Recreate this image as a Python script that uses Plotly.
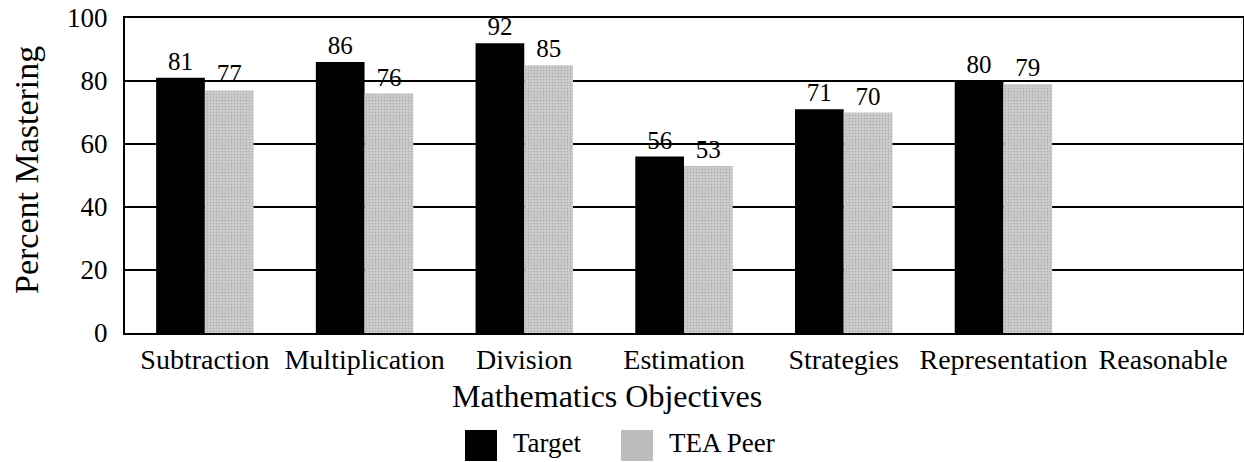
import plotly.graph_objects as go

categories = ["Subtraction", "Multiplication", "Division", "Estimation",
              "Strategies", "Representation", "Reasonable"]
target = [81, 86, 92, 56, 71, 80, None]
tea_peer = [77, 76, 85, 53, 70, 79, None]
y_ticks = [0, 20, 40, 60, 80, 100]
series_names = ["Target", "TEA Peer"]

FONT = "Liberation Serif"
W, H = 1244, 462
L, R, T, B = 125, 1, 18, 129

fig = go.Figure()
fig.add_trace(go.Bar(
    name=series_names[0], x=categories, y=target,
    marker=dict(color="black", line=dict(width=0)),
    text=[str(v) if v is not None else "" for v in target],
    textposition="outside", cliponaxis=False,
    textfont=dict(family=FONT, size=25, color="black"),
    showlegend=False,
))
fig.add_trace(go.Bar(
    name=series_names[1], x=categories, y=tea_peer,
    marker=dict(color="#bdbdbd", line=dict(width=0),
                pattern=dict(shape=".", fgcolor="#8f8f8f", bgcolor="#cfcfcf",
                             size=3, solidity=0.3)),
    text=[str(v) if v is not None else "" for v in tea_peer],
    textposition="outside", cliponaxis=False,
    textfont=dict(family=FONT, size=25, color="black"),
    showlegend=False,
))

pw = W - L - R
ph = H - T - B
def px_x(x):
    return (x - L) / pw
def px_y(y):
    return (H - B - y) / ph

# custom legend (large squares like the reference)
legend_items = [
    (series_names[0], 465, 497, "black"),
    (series_names[1], 621, 653, "#bdbdbd"),
]
shapes = []
annotations = []
for name, x0, x1, col in legend_items:
    shapes.append(dict(type="rect", xref="paper", yref="paper",
                       x0=px_x(x0), x1=px_x(x1), y0=px_y(461), y1=px_y(430),
                       fillcolor=col, line=dict(width=0)))
    annotations.append(dict(text=name, xref="paper", yref="paper",
                            x=px_x(x1 + 14), y=px_y(443), xanchor="left", yanchor="middle",
                            showarrow=False, font=dict(family=FONT, size=27, color="black")))

annotations.append(dict(text="Mathematics Objectives", xref="paper", yref="paper",
                        x=px_x(607), y=px_y(396), xanchor="center", yanchor="middle",
                        showarrow=False, font=dict(family=FONT, size=32, color="black")))
annotations.append(dict(text="Percent Mastering", xref="paper", yref="paper",
                        x=px_x(27), y=px_y(170), xanchor="center", yanchor="middle",
                        textangle=-90,
                        showarrow=False, font=dict(family=FONT, size=34, color="black")))

fig.update_layout(
    width=W, height=H,
    margin=dict(l=L, r=R, t=T, b=B),
    paper_bgcolor="white", plot_bgcolor="white",
    barmode="group", bargap=0.39, bargroupgap=0,
    font=dict(family=FONT, color="black"),
    showlegend=False,
    shapes=shapes, annotations=annotations,
)
fig.update_xaxes(
    showline=True, linecolor="black", linewidth=2, mirror=True,
    showgrid=False, ticks="", automargin=False,
    tickfont=dict(family=FONT, size=28),
)
fig.update_yaxes(
    range=[0, 100], tickvals=y_ticks,
    showline=True, linecolor="black", linewidth=2, mirror=True,
    showgrid=True, gridcolor="black", gridwidth=2,
    zeroline=False, ticks="", automargin=False,
    ticklabelstandoff=10,
    tickfont=dict(family=FONT, size=27),
)

fig.write_html("out.html",
               config={"displayModeBar": False},
               post_script="document.body.style.margin='0';document.body.style.overflow='hidden';")
